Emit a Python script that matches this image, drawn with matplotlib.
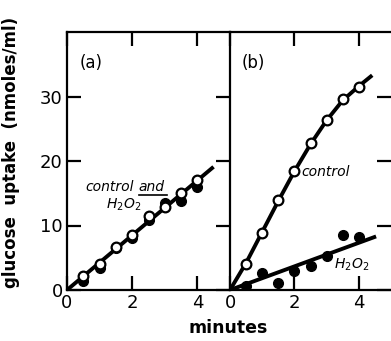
import matplotlib
matplotlib.use('Agg')
import matplotlib.pyplot as plt

# panel (a): control and H2O2 overlap
t = [0.5, 1, 1.5, 2, 2.5, 3, 3.5, 4]
a_control = [2.2, 4.0, 6.7, 8.5, 11.4, 12.9, 15.1, 17.0]
a_h2o2 = [1.4, 3.4, 6.5, 8.0, 10.8, 13.5, 13.8, 15.9]
a_fit_x = [0, 4.45]
a_fit_y = [0, 18.9]

# panel (b)
b_control = [4.0, 8.9, 13.9, 18.4, 22.8, 26.4, 29.6, 31.5]
b_control_curve_x = [0, 0.5, 1, 1.5, 2, 2.5, 3, 3.5, 4, 4.37]
b_control_curve_y = [0, 4.2, 9.0, 13.8, 18.4, 22.6, 26.3, 29.4, 31.6, 33.1]
b_h2o2 = [0.6, 2.6, 1.1, 2.9, 3.7, 5.3, 8.5, 8.2]
b_fit_x = [0, 4.48]
b_fit_y = [0, 8.2]

plt.rcParams['font.family'] = 'DejaVu Sans'
fig = plt.figure(figsize=(3.91, 3.41), dpi=100)
L, R, B, T = 67/391, 230/391, 51/341, 309/341
ax1 = fig.add_axes([L, B, R - L, T - B])
ax2 = fig.add_axes([R, B, 1.0 - R, T - B])

lw = 2.8
ms = 7
for ax in (ax1, ax2):
    ax.set_xlim(0, 5)
    ax.set_ylim(0, 40)
    ax.set_facecolor('none')
    for s in ax.spines.values():
        s.set_linewidth(1.6)
    ax.tick_params(direction='in', length=10, width=1.6, labelsize=13,
                   top=True, right=True, pad=3)
    ax.set_xticks([0, 2, 4])
    ax.set_yticks([0, 10, 20, 30])

ax1.plot(a_fit_x, a_fit_y, color='black', lw=lw, zorder=2)
ax1.plot(t, a_h2o2, 'o', color='black', ms=ms, zorder=3)
ax1.plot(t, a_control, 'o', mfc='white', mec='black', mew=1.6, ms=ms, zorder=4)
ax1.text(0.08, 0.915, '(a)', transform=ax1.transAxes, fontsize=12, va='top')
ax1.text(2.05, 15.9, 'control', style='italic', fontsize=10, ha='right', va='center')
ax1.text(2.2, 15.9, 'and', style='italic', fontsize=10, ha='left', va='center')
ax1.plot([2.2, 3.08], [14.75, 14.75], color='black', lw=1.2)
ax1.text(1.75, 13.2, 'H$_2$O$_2$', style='italic', fontsize=10, ha='center', va='center')

ax2.spines['left'].set_visible(False)
ax2.spines['right'].set_visible(False)
ax2.tick_params(left=False, labelleft=False)
ax2.plot(b_control_curve_x, b_control_curve_y, color='black', lw=lw, zorder=2)
ax2.plot(b_fit_x, b_fit_y, color='black', lw=lw, zorder=2)
ax2.plot(t, b_h2o2, 'o', color='black', ms=ms, zorder=3)
ax2.plot(t, b_control, 'o', mfc='white', mec='black', mew=1.6, ms=ms, zorder=4)
ax2.text(0.075, 0.915, '(b)', transform=ax2.transAxes, fontsize=12, va='top')
ax2.text(2.22, 18.3, 'control', style='italic', fontsize=10, va='center')
ax2.text(3.22, 3.9, 'H$_2$O$_2$', style='italic', fontsize=10, va='center')

fig.text(11/391, 1 - 152/341, 'glucose  uptake  (nmoles/ml)', rotation=90,
         fontsize=12, fontweight='heavy', ha='center', va='center')
fig.text(228/391, 1 - 328/341, 'minutes', fontsize=12.5, fontweight='heavy',
         ha='center', va='center')

fig.savefig('out.png', dpi=100)
